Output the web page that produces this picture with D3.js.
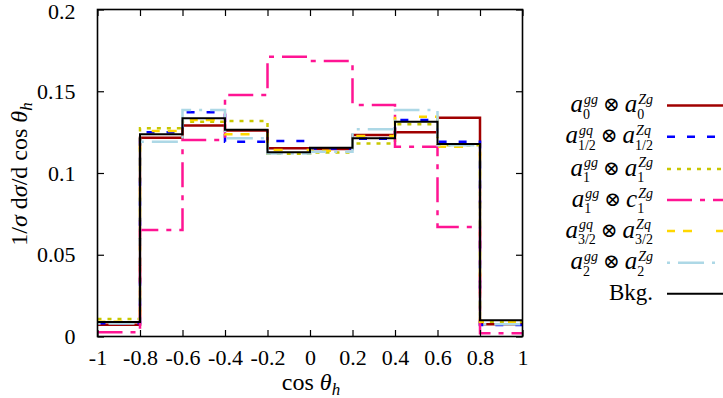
<!DOCTYPE html>
<html><head><meta charset="utf-8">
<script src="https://cdn.jsdelivr.net/npm/d3@7/dist/d3.min.js"></script>
<style>body{margin:0;background:#fff} svg{display:block} text{font-family:'Liberation Serif','DejaVu Serif',serif}</style>
</head><body><svg id="c" width="723" height="398"></svg>
<script>
// ---- data ----
const binEdges = [-1, -0.8, -0.6, -0.4, -0.2, 0, 0.2, 0.4, 0.6, 0.8, 1];
const xTicks = [-1, -0.8, -0.6, -0.4, -0.2, 0, 0.2, 0.4, 0.6, 0.8, 1];
const xTickLabels = ["-1", "-0.8", "-0.6", "-0.4", "-0.2", "0", "0.2", "0.4", "0.6", "0.8", "1"];
const yTicks = [0, 0.05, 0.1, 0.15, 0.2];
const yTickLabels = ["0", "0.05", "0.1", "0.15", "0.2"];

const a0a0   = [0.0072, 0.1216, 0.1290, 0.1260, 0.1151, 0.1147, 0.1232, 0.1249, 0.1338, 0.0075];
const a12a12 = [0.0081, 0.1249, 0.1371, 0.1191, 0.1196, 0.1150, 0.1210, 0.1324, 0.1191, 0.0070];
const a1a1   = [0.0107, 0.1273, 0.1314, 0.1318, 0.1118, 0.1126, 0.1181, 0.1298, 0.1170, 0.0090];
const a1c1   = [0.0026, 0.0651, 0.1202, 0.1477, 0.1711, 0.1685, 0.1416, 0.1161, 0.0670, 0.0020];
const a32a32 = [0.0090, 0.1257, 0.1324, 0.1237, 0.1140, 0.1136, 0.1226, 0.1344, 0.1161, 0.0090];
const a2a2   = [0.0080, 0.1191, 0.1385, 0.1212, 0.1120, 0.1130, 0.1267, 0.1385, 0.1170, 0.0075];
const bkg    = [0.0089, 0.1237, 0.1335, 0.1265, 0.1127, 0.1155, 0.1212, 0.1314, 0.1177, 0.0100];

const seriesLabels = [
  [{b:"a", sup:"gg", sub:"0"}, {b:"a", sup:"Zg", sub:"0"}],
  [{b:"a", sup:"gq", sub:"1/2"}, {b:"a", sup:"Zq", sub:"1/2"}],
  [{b:"a", sup:"gg", sub:"1"}, {b:"a", sup:"Zg", sub:"1"}],
  [{b:"a", sup:"gg", sub:"1"}, {b:"c", sup:"Zg", sub:"1"}],
  [{b:"a", sup:"gq", sub:"3/2"}, {b:"a", sup:"Zq", sub:"3/2"}],
  [{b:"a", sup:"gg", sub:"2"}, {b:"a", sup:"Zg", sub:"2"}],
  "Bkg."
];
const seriesValues = [a0a0, a12a12, a1a1, a1c1, a32a32, a2a2, bkg];
const seriesColors = ["#a00000", "#0000ff", "#c8c800", "#ff1493", "#ffd700", "#add8e6", "#000000"];
const seriesDash = ["", "8,12", "4,6", "25,8,5,8", "8,8,9,24", "3,8,26,8", ""];
const seriesWidth = [2.5, 2.5, 2.5, 2.5, 2.5, 2.5, 2];

// ---- layout ----
const svg = d3.select("#c");
const L = 97.5, R = 522.5, T = 9.5, B = 336.5;
const x = d3.scaleLinear().domain([-1, 1]).range([L, R]);
const y = d3.scaleLinear().domain([0, 0.2]).range([B, T]);
const serif = "'Liberation Serif', 'DejaVu Serif', serif";

// histograms
const g = svg.append("g");
seriesValues.forEach((vals, i) => {
  const pts = [];
  vals.forEach((v, k) => { pts.push([binEdges[k], v]); pts.push([binEdges[k + 1], v]); });
  const line = d3.line().x(d => x(d[0])).y(d => y(d[1]));
  g.append("path").attr("d", line(pts)).attr("fill", "none")
    .attr("stroke", seriesColors[i]).attr("stroke-width", seriesWidth[i])
    .attr("stroke-dasharray", seriesDash[i] || null);
});

// axes (ticks inward, mirrored)
const tk = 6.5;
const axB = d3.axisBottom(x).tickValues(xTicks).tickSize(-tk).tickFormat((d, i) => xTickLabels[i]).tickPadding(13);
const axT = d3.axisTop(x).tickValues(xTicks).tickSize(-tk).tickFormat("");
const axL = d3.axisLeft(y).tickValues(yTicks).tickSize(-tk).tickFormat((d, i) => yTickLabels[i]).tickPadding(22);
const axR = d3.axisRight(y).tickValues(yTicks).tickSize(-tk).tickFormat("");
function style(sel) {
  sel.select(".domain").remove();
  sel.selectAll("line").attr("stroke", "#000").attr("stroke-width", 1.2);
  sel.selectAll("text").attr("font-family", serif).attr("font-size", 22).attr("fill", "#000");
}
svg.append("g").attr("transform", `translate(0,${B})`).call(axB).call(style);
svg.append("g").attr("transform", `translate(0,${T})`).call(axT).call(style);
const gl = svg.append("g").attr("transform", `translate(${L},0)`).call(axL).call(style);
gl.selectAll("text").filter(d => d === 0.2).attr("dy", "0.42em");
svg.append("g").attr("transform", `translate(${R},0)`).call(axR).call(style);
svg.append("rect").attr("x", L).attr("y", T).attr("width", R - L).attr("height", B - T)
  .attr("fill", "none").attr("stroke", "#000").attr("stroke-width", 1.6);

// axis titles
const xt = svg.append("text").attr("x", 311).attr("y", 390).attr("text-anchor", "middle")
  .attr("font-family", serif).attr("font-size", 24);
xt.append("tspan").text("cos ");
xt.append("tspan").attr("font-style", "italic").text("θ");
xt.append("tspan").attr("font-style", "italic").attr("font-size", 17).attr("dy", 5).text("h");

const yt = svg.append("text").attr("transform", "translate(27,174) rotate(-90)")
  .attr("text-anchor", "middle").attr("font-family", serif).attr("font-size", 24);
yt.append("tspan").text("1/");
yt.append("tspan").attr("font-style", "italic").text("σ");
yt.append("tspan").text(" d");
yt.append("tspan").attr("font-style", "italic").text("σ");
yt.append("tspan").text("/d cos ");
yt.append("tspan").attr("font-style", "italic").text("θ");
yt.append("tspan").attr("font-style", "italic").attr("font-size", 17).attr("dy", 5).text("h");

// legend
const rowY = [105.5, 136.7, 169, 200, 231, 262.7, 293.7];
const textRight = 653, lineX1 = 667, lineX2 = 730;
const meas = svg.append("text").attr("x", -500).attr("y", -500);
function measure(txt, size, italic, family) {
  meas.attr("font-size", size).attr("font-style", italic ? "italic" : "normal")
    .attr("font-family", family || serif).text(txt);
  return meas.node().getComputedTextLength();
}
seriesLabels.forEach((lab, i) => {
  const ry = rowY[i];
  svg.append("line").attr("x1", lineX1).attr("x2", lineX2).attr("y1", ry).attr("y2", ry)
    .attr("stroke", seriesColors[i]).attr("stroke-width", seriesWidth[i])
    .attr("stroke-dasharray", seriesDash[i] || null);
  const base = ry + 6.5;
  const pieces = [];
  let cx = 0;
  if (typeof lab === "string") {
    pieces.push({t: lab, x: 0, y: 0, size: 23});
    cx = measure(lab, 23, false);
  } else {
    lab.forEach((term, j) => {
      if (j > 0) {
        cx += 5;
        pieces.push({t: "⊗", x: cx, y: -1, size: 20, family: "'DejaVu Serif', serif"});
        cx += measure("⊗", 20, false, "'DejaVu Serif', serif") + 5;
      }
      pieces.push({t: term.b, x: cx, y: 0, size: 25, italic: true});
      cx += measure(term.b, 25, true);
      pieces.push({t: term.sup, x: cx + 1, y: -8.5, size: 14, italic: true});
      pieces.push({t: term.sub, x: cx, y: 6.5, size: 14});
      cx += Math.max(measure(term.sup, 14, true) + 1, measure(term.sub, 14, false));
    });
  }
  const x0 = textRight - cx;
  const txt = svg.append("text").attr("x", x0).attr("y", base);
  pieces.forEach(p => {
    txt.append("tspan").attr("x", x0 + p.x).attr("y", base + p.y)
      .attr("font-size", p.size).attr("font-style", p.italic ? "italic" : "normal")
      .attr("font-family", p.family || serif).text(p.t);
  });
});
meas.remove();
</script></body></html>
